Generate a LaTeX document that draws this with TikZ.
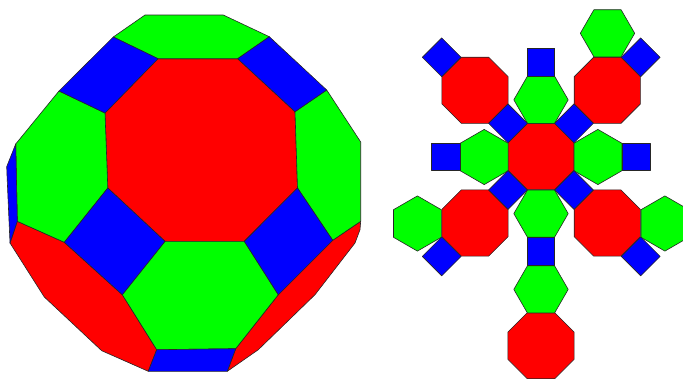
\documentclass[tikz,border=0pt]{standalone}
\usepackage{xcolor}
\usepackage{tikz}
\usetikzlibrary{calc}
\tikzset{
  face/.style={draw=black!85, line width=0.6pt, line join=round},
  redface/.style={face, fill=red},
  greenface/.style={face, fill=green},
  blueface/.style={face, fill=blue}
}
\newcommand{\octa}[2]{\draw[redface] (#1,#2) +(22.5:35.8) -- +(67.5:35.8) -- +(112.5:35.8) -- +(157.5:35.8)
  -- +(202.5:35.8) -- +(247.5:35.8) -- +(292.5:35.8) -- +(337.5:35.8) -- cycle;}
\newcommand{\hexflat}[2]{\draw[greenface] (#1,#2) +(0:27.2) -- +(60:27.2) -- +(120:27.2) -- +(180:27.2)
  -- +(240:27.2) -- +(300:27.2) -- cycle;}
\newcommand{\hexpoint}[2]{\draw[greenface] (#1,#2) +(30:27.6) -- +(90:27.6) -- +(150:27.6) -- +(210:27.6)
  -- +(270:27.6) -- +(330:27.6) -- cycle;}
\newcommand{\diam}[2]{\draw[blueface] (#1,#2) +(0:19.4) -- +(90:19.4) -- +(180:19.4) -- +(270:19.4) -- cycle;}

\begin{document}
\begin{tikzpicture}[x=1pt, y=-1pt]
  \useasboundingbox (0,0) rectangle (683,378);
  % ── Solid, red faces ──
  \draw[redface] (158,58.7) -- (237.7,58.7) -- (295,111.7) -- (297.5,188) -- (244.3,241.3)
    -- (165,241.3) -- (107.8,188) -- (105,113) -- cycle;
  \draw[redface] (17.3,221.3) -- (64.3,242.3) -- (122.3,294.7) -- (156.7,349.7) -- (148.3,371.3)
    -- (101.7,350.7) -- (44.3,297) -- (10,243) -- cycle;
  \draw[redface] (332.7,240.3) -- (360.7,221.3) -- (360,229.7) -- (355,243) -- (315,294.7)
    -- (258.3,349.7) -- (227.3,371.3) -- (235.7,348.7) -- (278.3,294.7) -- cycle;
  % ── Solid, green faces ──
  \draw[greenface] (145,15) -- (223.3,15) -- (269.3,36.7) -- (237.7,58.7) -- (158,58.7) -- (113.3,37) -- cycle;
  \draw[greenface] (59,91) -- (105,113) -- (107.8,188) -- (64.3,242.3) -- (17.3,221.3) -- (15.7,144) -- cycle;
  \draw[greenface] (326.7,90) -- (360.7,142) -- (360.7,221.3) -- (332.7,240.3) -- (297.5,188) -- (295,111.7) -- cycle;
  \draw[greenface] (165,241.3) -- (244.3,241.3) -- (278.3,294.7) -- (235.7,348.7) -- (156.7,349.7) -- (122.3,294.7) -- cycle;
  % ── Solid, blue faces ──
  \draw[blueface] (113.3,37) -- (158,58.7) -- (105,113) -- (59,91) -- cycle;
  \draw[blueface] (269.3,36.7) -- (326.7,90) -- (295,111.7) -- (237.7,58.7) -- cycle;
  \draw[blueface] (15.7,144) -- (6.7,166.7) -- (7,175) -- (10,243) -- (17.3,221.3) -- cycle;
  \draw[blueface] (107.8,188) -- (165,241.3) -- (122.3,294.7) -- (64.3,242.3) -- cycle;
  \draw[blueface] (297.5,188) -- (332.7,240.3) -- (278.3,294.7) -- (244.3,241.3) -- cycle;
  \draw[blueface] (156.7,349.7) -- (235.7,348.7) -- (227.3,371.3) -- (148.3,371.3) -- cycle;
  % ── Net, octagons ──
  \foreach \cx/\cy in {541/156.6, 475/90.3, 607.3/90.3, 475/223, 607.3/223, 541/345.7}
    {\octa{\cx}{\cy}}
  % ── Net, hexagons ──
  \foreach \cx/\cy in {541/99.8, 541/213.6, 541/289.4, 607.5/33.3}
    {\hexflat{\cx}{\cy}}
  \foreach \cx/\cy in {484.2/157, 597.9/157, 417.4/223.5, 664.9/223.5}
    {\hexpoint{\cx}{\cy}}
  % ── Net, squares ──
  \foreach \cx/\cy in {508/123.3, 574/123.3, 508/190, 574/190, 441.7/57.3, 640.7/57.3, 441.7/256.4, 640.7/256.4}
    {\diam{\cx}{\cy}}
  \draw[blueface] (527.3,48.3) rectangle (554.7,76.3);
  \draw[blueface] (527.3,237.3) rectangle (554.7,265.7);
  \draw[blueface] (431.7,143.3) rectangle (460.3,170.7);
  \draw[blueface] (622,143.3) rectangle (650.3,170.7);
\end{tikzpicture}
\end{document}
